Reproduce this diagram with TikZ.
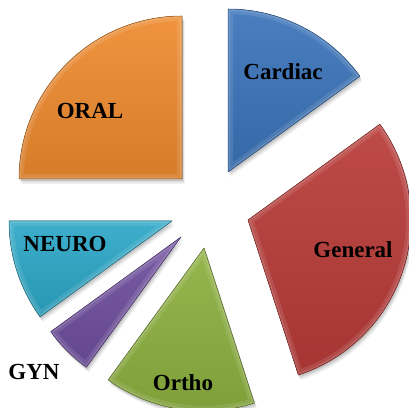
\documentclass[tikz,border=0pt]{standalone}
\usepackage{fontspec}
\setmainfont{Liberation Serif}
\definecolor{cOral}{HTML}{EE8A2E}
\definecolor{cCard}{HTML}{3A73B9}
\definecolor{cGen}{HTML}{B83B38}
\definecolor{cOrtho}{HTML}{8CB03E}
\definecolor{cGyn}{HTML}{6F4E9E}
\definecolor{cNeuro}{HTML}{2CA7C7}
\newcommand\pieslice[5]{%
  \foreach \s/\o in {5/0.06,3.5/0.08,2/0.1}{%
    \begin{scope}[shift={(0.5*\s,-\s)}]
      \fill[black,opacity=\o] (#1) -- ++(#2:#4) arc[start angle=#2,end angle=#3,radius=#4] -- cycle;
    \end{scope}}
  \fill[top color=#5!92!white,bottom color=#5!90!black] (#1) -- ++(#2:#4) arc[start angle=#2,end angle=#3,radius=#4] -- cycle;
  \begin{scope}
    \clip (#1) -- ++(#2:#4) arc[start angle=#2,end angle=#3,radius=#4] -- cycle;
    \draw[white,opacity=0.10,line width=10pt,line join=round] (#1) -- ++(#2:#4) arc[start angle=#2,end angle=#3,radius=#4] -- cycle;
    \draw[white,opacity=0.12,line width=4pt,line join=round] (#1) -- ++(#2:#4) arc[start angle=#2,end angle=#3,radius=#4] -- cycle;
  \end{scope}
  \draw[#5!65!black,line width=0.5pt,line join=round] (#1) -- ++(#2:#4) arc[start angle=#2,end angle=#3,radius=#4] -- cycle;
}
\tikzset{lbl/.style={font=\bfseries\fontsize{23}{23}\selectfont,text=black,inner sep=0pt}}
\begin{document}
\begin{tikzpicture}[x=1pt,y=1pt]
\useasboundingbox (0,0) rectangle (409,407);
\pieslice{182,228}{90}{180}{163}{cOral}
\pieslice{228,235}{36}{90}{163}{cCard}
\pieslice{248,187}{-72}{36}{163}{cGen}
\pieslice{204,159}{-126}{-72}{163}{cOrtho}
\pieslice{181,170}{216}{234}{161}{cGyn}
\pieslice{172,186}{180}{216}{163}{cNeuro}
\node[lbl] (oral) at (90,296) {ORAL};
\node[lbl] (cardiac) at (283,335) {Cardiac};
\node[lbl] (general) at (353,157) {General};
\node[lbl] (ortho) at (183,24) {Ortho};
\node[lbl] (neuro) at (65,163) {NEURO};
\node[lbl] (gyn) at (34,35) {GYN};
\end{tikzpicture}
\end{document}
